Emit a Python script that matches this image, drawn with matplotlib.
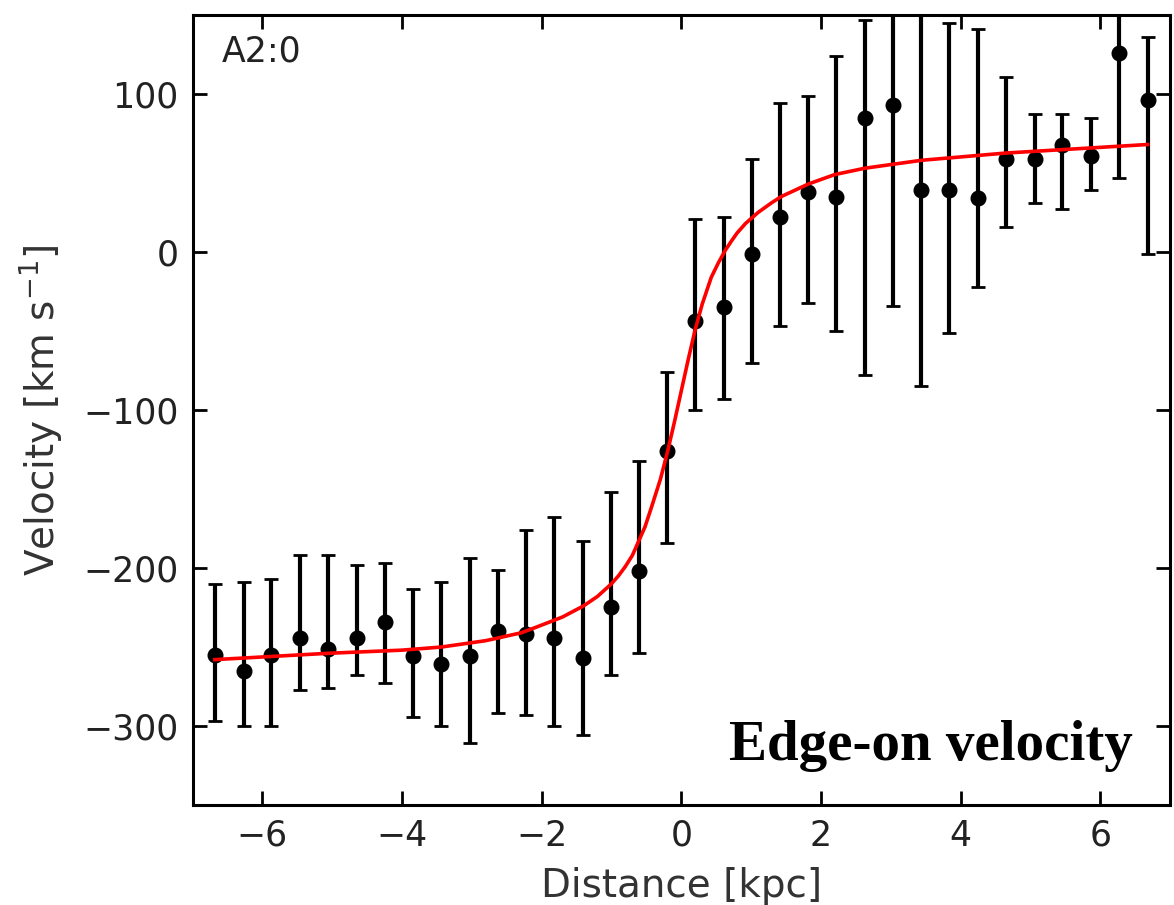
import matplotlib
matplotlib.use("Agg")
import matplotlib.pyplot as plt
import numpy as np

# Data
distance = [-6.68, -6.27, -5.87, -5.46, -5.06, -4.65, -4.25, -3.84, -3.44, -3.03,
            -2.63, -2.22, -1.82, -1.41, -1.01, -0.61, -0.20, 0.20, 0.61, 1.01,
            1.41, 1.82, 2.22, 2.63, 3.03, 3.44, 3.84, 4.25, 4.65, 5.06,
            5.46, 5.87, 6.27, 6.68]
velocity = [-255, -265, -255, -244, -251, -244, -234, -256, -261, -256,
            -240, -242, -244, -257, -225, -202, -126, -44, -35, -1,
            22, 38, 35, 85, 93, 39, 39, 34, 59, 59,
            68, 61, 126, 96]
err_top = [-210, -209, -207, -192, -192, -198, -197, -213, -209, -194,
           -201, -176, -168, -183, -152, -132, -76, 21, 22, 59,
           94, 99, 124, 147, 175, 170, 145, 141, 111, 87,
           87, 85, 205, 136]
err_bottom = [-297, -300, -300, -277, -276, -268, -273, -294, -300, -311,
              -292, -293, -300, -306, -268, -254, -184, -100, -93, -70,
              -47, -32, -50, -78, -34, -85, -51, -22, 16, 31,
              27, 39, 47, -1]

# Red model curve
curve_x = [-6.68, -5.06, -4.00, -3.43, -2.80, -2.29, -2.05, -1.70, -1.40, -1.20,
           -1.00, -0.90, -0.80, -0.70, -0.62, -0.52, -0.43, -0.30, -0.20, -0.10,
           0.00, 0.10, 0.20, 0.30, 0.43, 0.53, 0.63, 0.72, 0.80, 0.92,
           1.10, 1.29, 1.43, 1.82, 2.20, 2.63, 3.44, 4.65, 6.68]
curve_v = [-258, -254, -252, -250, -246, -241, -237, -231, -224, -218,
           -210, -205, -199, -192, -184, -174, -162, -144, -127, -108,
           -88, -68, -49, -33, -16, -7, 1, 7, 12, 18,
           25, 31, 35, 43, 49, 53, 58, 62.6, 68]

xticks = [-6, -4, -2, 0, 2, 4, 6]
yticks = [-300, -200, -100, 0, 100]

fig = plt.figure(figsize=(11.74, 9.05), dpi=100)
ax = fig.add_axes([0.164, 0.1105, 0.8326, 0.873])

v = np.array(velocity, dtype=float)
yerr = [v - np.array(err_bottom), np.array(err_top) - v]
ax.errorbar(distance, velocity, yerr=yerr, fmt='o', color='black',
            markersize=10.5, elinewidth=3, capsize=5, capthick=2, zorder=2)
ax.plot(curve_x, curve_v, color='red', linewidth=2.6, zorder=3,
        solid_joinstyle='round')

ax.set_xlim(-7, 7)
ax.set_ylim(-350, 150)
ax.set_xticks(xticks)
ax.set_yticks(yticks)
ax.tick_params(direction='in', length=10, width=2, top=True, right=True,
               labelsize=25, pad=10, colors='black', labelcolor='#222222')
for s in ax.spines.values():
    s.set_linewidth(2.2)

ax.set_xlabel('Distance [kpc]', fontsize=28, color='#333333', labelpad=10)
ax.set_ylabel('Velocity [km s$^{-1}$]', fontsize=28, color='#333333', labelpad=14)

ax.text(0.03, 0.975, 'A2:0', transform=ax.transAxes, fontsize=25,
        ha='left', va='top', color='#222222')
ax.text(0.962, 0.057, 'Edge-on velocity', transform=ax.transAxes,
        fontsize=41, fontweight='bold', family='Liberation Serif',
        ha='right', va='baseline', color='black')

fig.savefig('out.png', dpi=100)
